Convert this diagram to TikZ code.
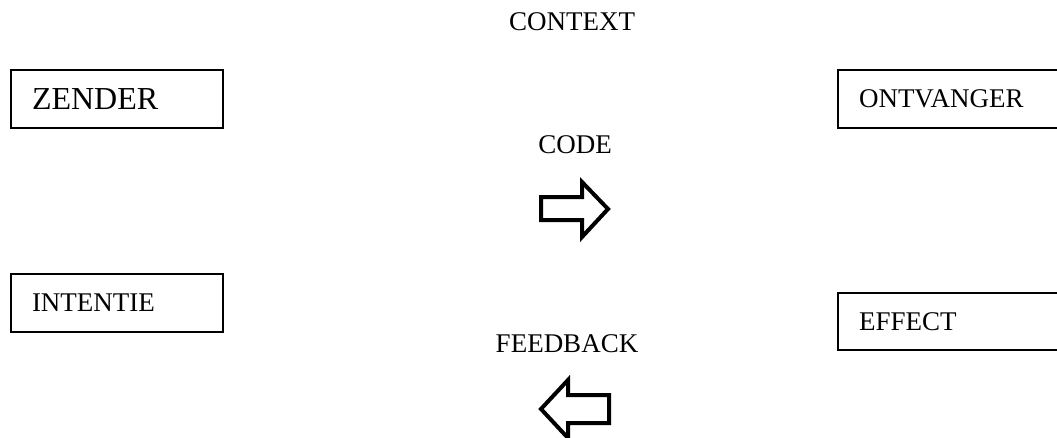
\documentclass[tikz,border=0pt]{standalone}
\usepackage{fontspec}
\setmainfont{Liberation Serif}
\usepackage{tikz}

\tikzset{
  label/.style={anchor=base,font=\fontsize{27}{32}\selectfont},
  box/.style={draw,line width=2pt,minimum height=58pt,text width=170pt,inner xsep=21pt,
    align=left,font=\fontsize{27}{32}\selectfont},
  blockarrow/.style={line width=4pt,miter limit=20}
}

\begin{document}
\begin{tikzpicture}[x=1pt,y=-1pt]
  \useasboundingbox (0,0) rectangle (1057,437);
  \draw (572,30) node[label] (context) {CONTEXT};
  \draw (117,99) node[box,font=\fontsize{32}{38}\selectfont] (zender) {ZENDER};
  \draw (837,99) node[box,anchor=west,text width=200pt] (ontvanger) {ONTVANGER};
  \draw (575,153) node[label] (code) {CODE};
  \draw[blockarrow] (541,197) -- (582,197) -- (582,182) -- (608,209) -- (582,237) -- (582,220) -- (541,220) -- cycle;
  \draw (117,303) node[box] (intentie) {INTENTIE};
  \draw (837,321.5) node[box,anchor=west,text width=200pt,minimum height=57pt] (effect) {EFFECT};
  \draw (567,352) node[label] (feedback) {FEEDBACK};
  \draw[blockarrow] (541,409) -- (568,380) -- (568,395) -- (609,395) -- (609,423) -- (568,423) -- (568,438) -- cycle;
\end{tikzpicture}
\end{document}
